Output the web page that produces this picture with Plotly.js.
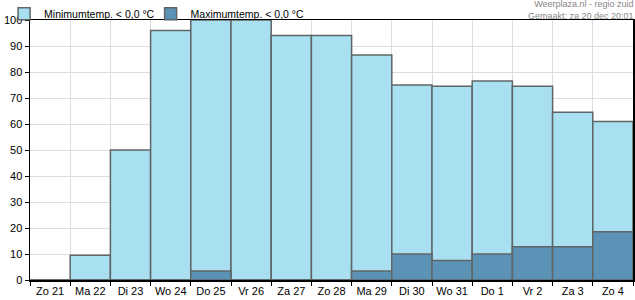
<!DOCTYPE html>
<html>
<head>
<meta charset="utf-8">
<script src="https://cdn.plot.ly/plotly-3.0.1.min.js"></script>
<style>html,body{margin:0;padding:0;background:#fff;}#chart{width:635px;height:300px;}</style>
</head>
<body>
<div id="chart"></div>
<script>
const categories = ["Zo 21","Ma 22","Di 23","Wo 24","Do 25","Vr 26","Za 27","Zo 28","Ma 29","Di 30","Wo 31","Do 1","Vr 2","Za 3","Zo 4"];
const minTempBelowZero = [0, 9.5, 50, 96, 100, 100, 94, 94, 86.5, 75, 74.5, 76.5, 74.5, 64.5, 61];
const maxTempBelowZero = [0, 0, 0, 0, 3.5, 0, 0, 0, 3.5, 10, 7.5, 10, 12.8, 12.8, 18.6];
const seriesNames = ["Minimumtemp. < 0,0 °C", "Maximumtemp. < 0,0 °C"];
const yTicks = [0,10,20,30,40,50,60,70,80,90,100];

const FAM = "Liberation Sans";
const font = {family: FAM, size: 11, color: "#000"};

const traces = [
  {type: "bar", x: categories, y: minTempBelowZero, name: seriesNames[0], legend: "legend",
   marker: {color: "#a8e0f2", line: {color: "#5f6566", width: 1.5}}, hoverinfo: "y"},
  {type: "bar", x: categories, y: maxTempBelowZero, name: seriesNames[1], legend: "legend2",
   marker: {color: "#5c92b6", line: {color: "#5f6566", width: 1.5}}, hoverinfo: "y"}
];

const legendCommon = {orientation: "h", xanchor: "left", y: 1.08, yanchor: "top",
  font: {family: FAM, size: 10.5, color: "#000"}, itemwidth: 30,
  bgcolor: "rgba(0,0,0,0)", borderwidth: 0};

const layout = {
  width: 635, height: 300,
  margin: {l: 30, r: 2, t: 20, b: 20, autoexpand: false},
  paper_bgcolor: "#fff", plot_bgcolor: "#fff",
  font: font,
  barmode: "overlay", bargap: 0,
  showlegend: true,
  legend: Object.assign({}, legendCommon, {x: -0.043}),
  legend2: Object.assign({}, legendCommon, {x: 0.2}),
  xaxis: {type: "category", tickson: "boundaries", ticks: "outside", ticklen: 4, tickcolor: "#000",
          tickangle: 0, showgrid: true, gridcolor: "#dddddd", showline: true, linecolor: "#000", linewidth: 1.5,
          mirror: true, tickfont: font, fixedrange: true, automargin: false},
  yaxis: {range: [0, 100], tickvals: yTicks, ticks: "outside", ticklen: 4, tickcolor: "#000",
          showgrid: true, gridcolor: "#dddddd", showline: true, linecolor: "#000", linewidth: 1.5,
          mirror: true, tickfont: font, zeroline: false, fixedrange: true, automargin: false},
  annotations: [
    {xref: "paper", yref: "paper", x: 1.003, y: 1.085, xanchor: "right", yanchor: "top",
     text: "Weerplaza.nl - regio zuid<br>Gemaakt: za 20 dec 20:01", align: "right", showarrow: false,
     font: {family: FAM, size: 9, color: "#888"}, borderpad: 0}
  ]
};

Plotly.newPlot("chart", traces, layout, {displayModeBar: false, staticPlot: true});
</script>
</body>
</html>
